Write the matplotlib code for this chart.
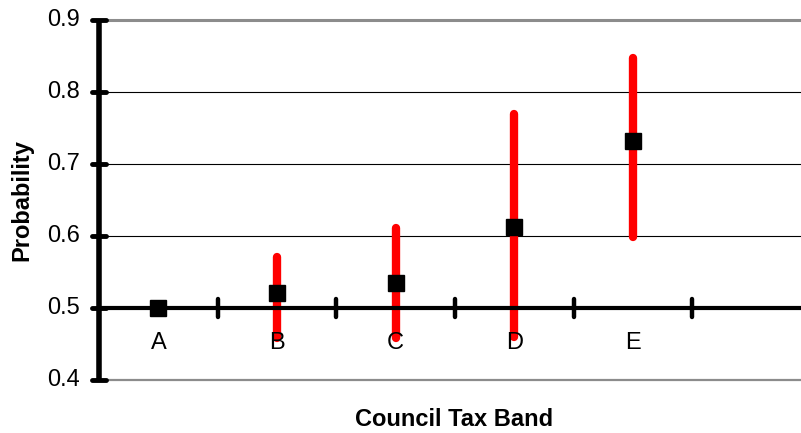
import matplotlib
matplotlib.use("Agg")
import matplotlib.pyplot as plt
import numpy as np

plt.rcParams['font.family'] = ['Liberation Sans', 'DejaVu Sans']

# Data
bands = ["A", "B", "C", "D", "E"]
probability = [0.500, 0.521, 0.535, 0.612, 0.732]
ci_lower = [0.500, 0.458, 0.458, 0.460, 0.599]
ci_upper = [0.500, 0.571, 0.611, 0.769, 0.847]
y_ticks = [0.4, 0.5, 0.6, 0.7, 0.8, 0.9]

FS = 17

fig = plt.figure(figsize=(8.01, 4.33), dpi=100)
ax = fig.add_axes([99 / 801, 53 / 433, 702 / 801, 360 / 433])

x = np.arange(len(bands))
xmin, xmax = -0.5, 5.415
ax.set_xlim(xmin, xmax)
ax.set_ylim(0.4, 0.9)

for s in ax.spines.values():
    s.set_visible(False)
ax.set_xticks([])
ax.set_yticks([])

# Gridlines and plot-area border
for yv in [0.6, 0.7, 0.8]:
    ax.plot([xmin, xmax], [yv, yv], color="black", lw=0.8, zorder=1, clip_on=False)
ax.plot([xmin, xmax], [0.9, 0.9], color="#8c8c8c", lw=2.2, zorder=1, clip_on=False)
ax.plot([xmin, xmax], [0.4, 0.4], color="#8c8c8c", lw=1.6, zorder=1, clip_on=False)

# Confidence intervals
for xi, lo, hi in zip(x, ci_lower, ci_upper):
    if hi > lo:
        ax.plot([xi, xi], [lo, hi], color="#ff0000", lw=6, solid_capstyle="round", zorder=2)

# Category axis crossing at 0.5
ax.plot([xmin, xmax], [0.5, 0.5], color="black", lw=3, zorder=3, clip_on=False)
for tx in np.arange(0.5, 5.0, 1.0):
    ax.plot([tx, tx], [0.5 - 0.012, 0.5 + 0.012], color="black", lw=3.2,
            solid_capstyle="round", zorder=3)

# Value axis
ax.plot([xmin, xmin], [0.4, 0.9], color="black", lw=4, zorder=4, clip_on=False,
        solid_capstyle="butt")
tick_half = 0.055
for yv in y_ticks:
    ax.plot([xmin - tick_half, xmin + tick_half], [yv, yv], color="black", lw=3.5,
            solid_capstyle="round", zorder=4, clip_on=False)
    ax.text(xmin - 0.16, yv, f"{yv:.1f}", ha="right", va="center", fontsize=FS)

# Point estimates
ax.plot(x, probability, linestyle="none", marker="s", markersize=11,
        color="black", zorder=5)

# Category labels
for xi, b in zip(x, bands):
    ax.text(xi, 0.5 - 0.048, b, ha="center", va="center", fontsize=FS, zorder=6)

fig.text(22 / 801, 1 - 200 / 433, "Probability", rotation=90, ha="center", va="center",
         fontsize=FS, fontweight="bold")
fig.text(454 / 801, 1 - 420 / 433, "Council Tax Band", ha="center", va="center",
         fontsize=FS, fontweight="bold")

fig.savefig("out.png", dpi=100)
